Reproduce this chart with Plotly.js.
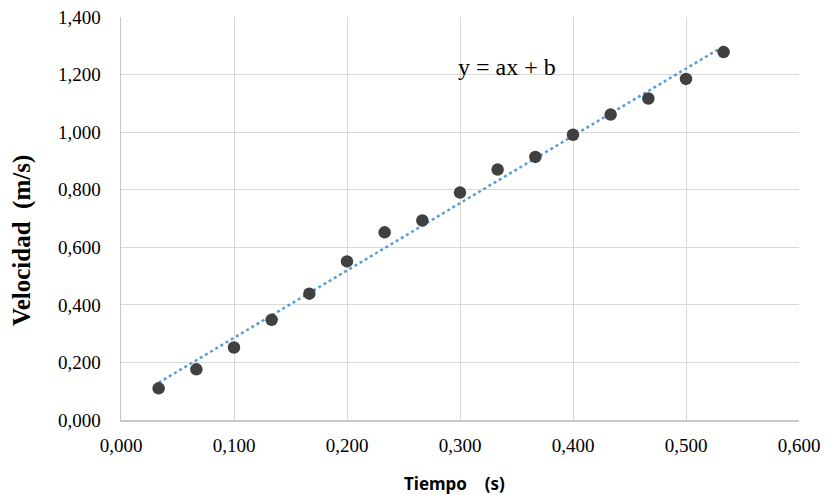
<!DOCTYPE html>
<html>
<head>
<meta charset="utf-8">
<script src="https://cdn.plot.ly/plotly-3.0.1.min.js"></script>
<style>html,body{margin:0;padding:0;background:#fff;}#chart{width:825px;height:495px;}</style>
</head>
<body>
<div id="chart"></div>
<script>
const tiempo = [0.0333, 0.0667, 0.1000, 0.1333, 0.1667, 0.2000, 0.2333, 0.2667, 0.3000, 0.3333, 0.3667, 0.4000, 0.4333, 0.4667, 0.5000, 0.5333];
const velocidad = [0.110, 0.176, 0.252, 0.348, 0.439, 0.551, 0.652, 0.693, 0.790, 0.870, 0.914, 0.991, 1.061, 1.117, 1.185, 1.278];
const ecuacion = "y = ax + b";
const tituloX = "Tiempo    (s)";
const tituloY = "Velocidad  (m/s)";

// least-squares linear trendline
const n = tiempo.length;
let sx = 0, sy = 0, sxx = 0, sxy = 0;
for (let i = 0; i < n; i++) { sx += tiempo[i]; sy += velocidad[i]; sxx += tiempo[i]*tiempo[i]; sxy += tiempo[i]*velocidad[i]; }
const a = (n*sxy - sx*sy) / (n*sxx - sx*sx);
const b = (sy - a*sx) / n;
const tx = [tiempo[0], tiempo[n-1]];
const ty = tx.map(x => a*x + b);

const traces = [
  {x: tx, y: ty, type: 'scatter', mode: 'lines', line: {color: '#5b9bd5', width: 2.5, dash: 'dot'}, hoverinfo: 'skip'},
  {x: tiempo, y: velocidad, type: 'scatter', mode: 'markers', marker: {color: '#404040', size: 12.5}}
];

const serif = 'Liberation Serif';
const layout = {
  width: 825, height: 495,
  margin: {l: 121, r: 26, t: 17, b: 75},
  paper_bgcolor: '#fff', plot_bgcolor: '#fff',
  showlegend: false,
  separators: ',.',
  font: {family: serif, size: 19, color: '#000'},
  xaxis: {
    range: [0, 0.6], dtick: 0.1, tick0: 0, tickformat: '.3f',
    showgrid: true, gridcolor: '#d9d9d9', gridwidth: 1,
    showline: true, linecolor: '#c8c8c8', linewidth: 1.5,
    zeroline: false, ticks: 'outside', ticklen: 8, tickcolor: 'rgba(0,0,0,0)',
    tickfont: {family: serif, size: 19, color: '#000'}
  },
  yaxis: {
    range: [0, 1.4], dtick: 0.2, tick0: 0, tickformat: '.3f',
    showgrid: true, gridcolor: '#d9d9d9', gridwidth: 1,
    showline: true, linecolor: '#c8c8c8', linewidth: 1.5,
    zeroline: false, ticks: 'outside', ticklen: 15, tickcolor: 'rgba(0,0,0,0)',
    tickfont: {family: serif, size: 19, color: '#000'}
  },
  annotations: [
    {
      text: ecuacion, xref: 'paper', yref: 'paper', x: 0.569, y: 0.877,
      xanchor: 'center', yanchor: 'middle', showarrow: false,
      font: {family: serif, size: 24, color: '#000'}
    },
    {
      text: tituloX, xref: 'paper', yref: 'paper', x: 0.4926, y: 0, yshift: -63,
      xanchor: 'center', yanchor: 'middle', showarrow: false, borderpad: 0,
      font: {family: 'Noto Sans', size: 17, color: '#000', weight: 'bold'}
    },
    {
      text: tituloY, xref: 'paper', yref: 'paper', x: 0, xshift: -99, y: 0.444,
      xanchor: 'center', yanchor: 'middle', showarrow: false, textangle: -90,
      font: {family: serif, size: 25, color: '#000', weight: 'bold'}
    }
  ]
};

Plotly.newPlot('chart', traces, layout, {displayModeBar: false, staticPlot: true});
</script>
</body>
</html>
